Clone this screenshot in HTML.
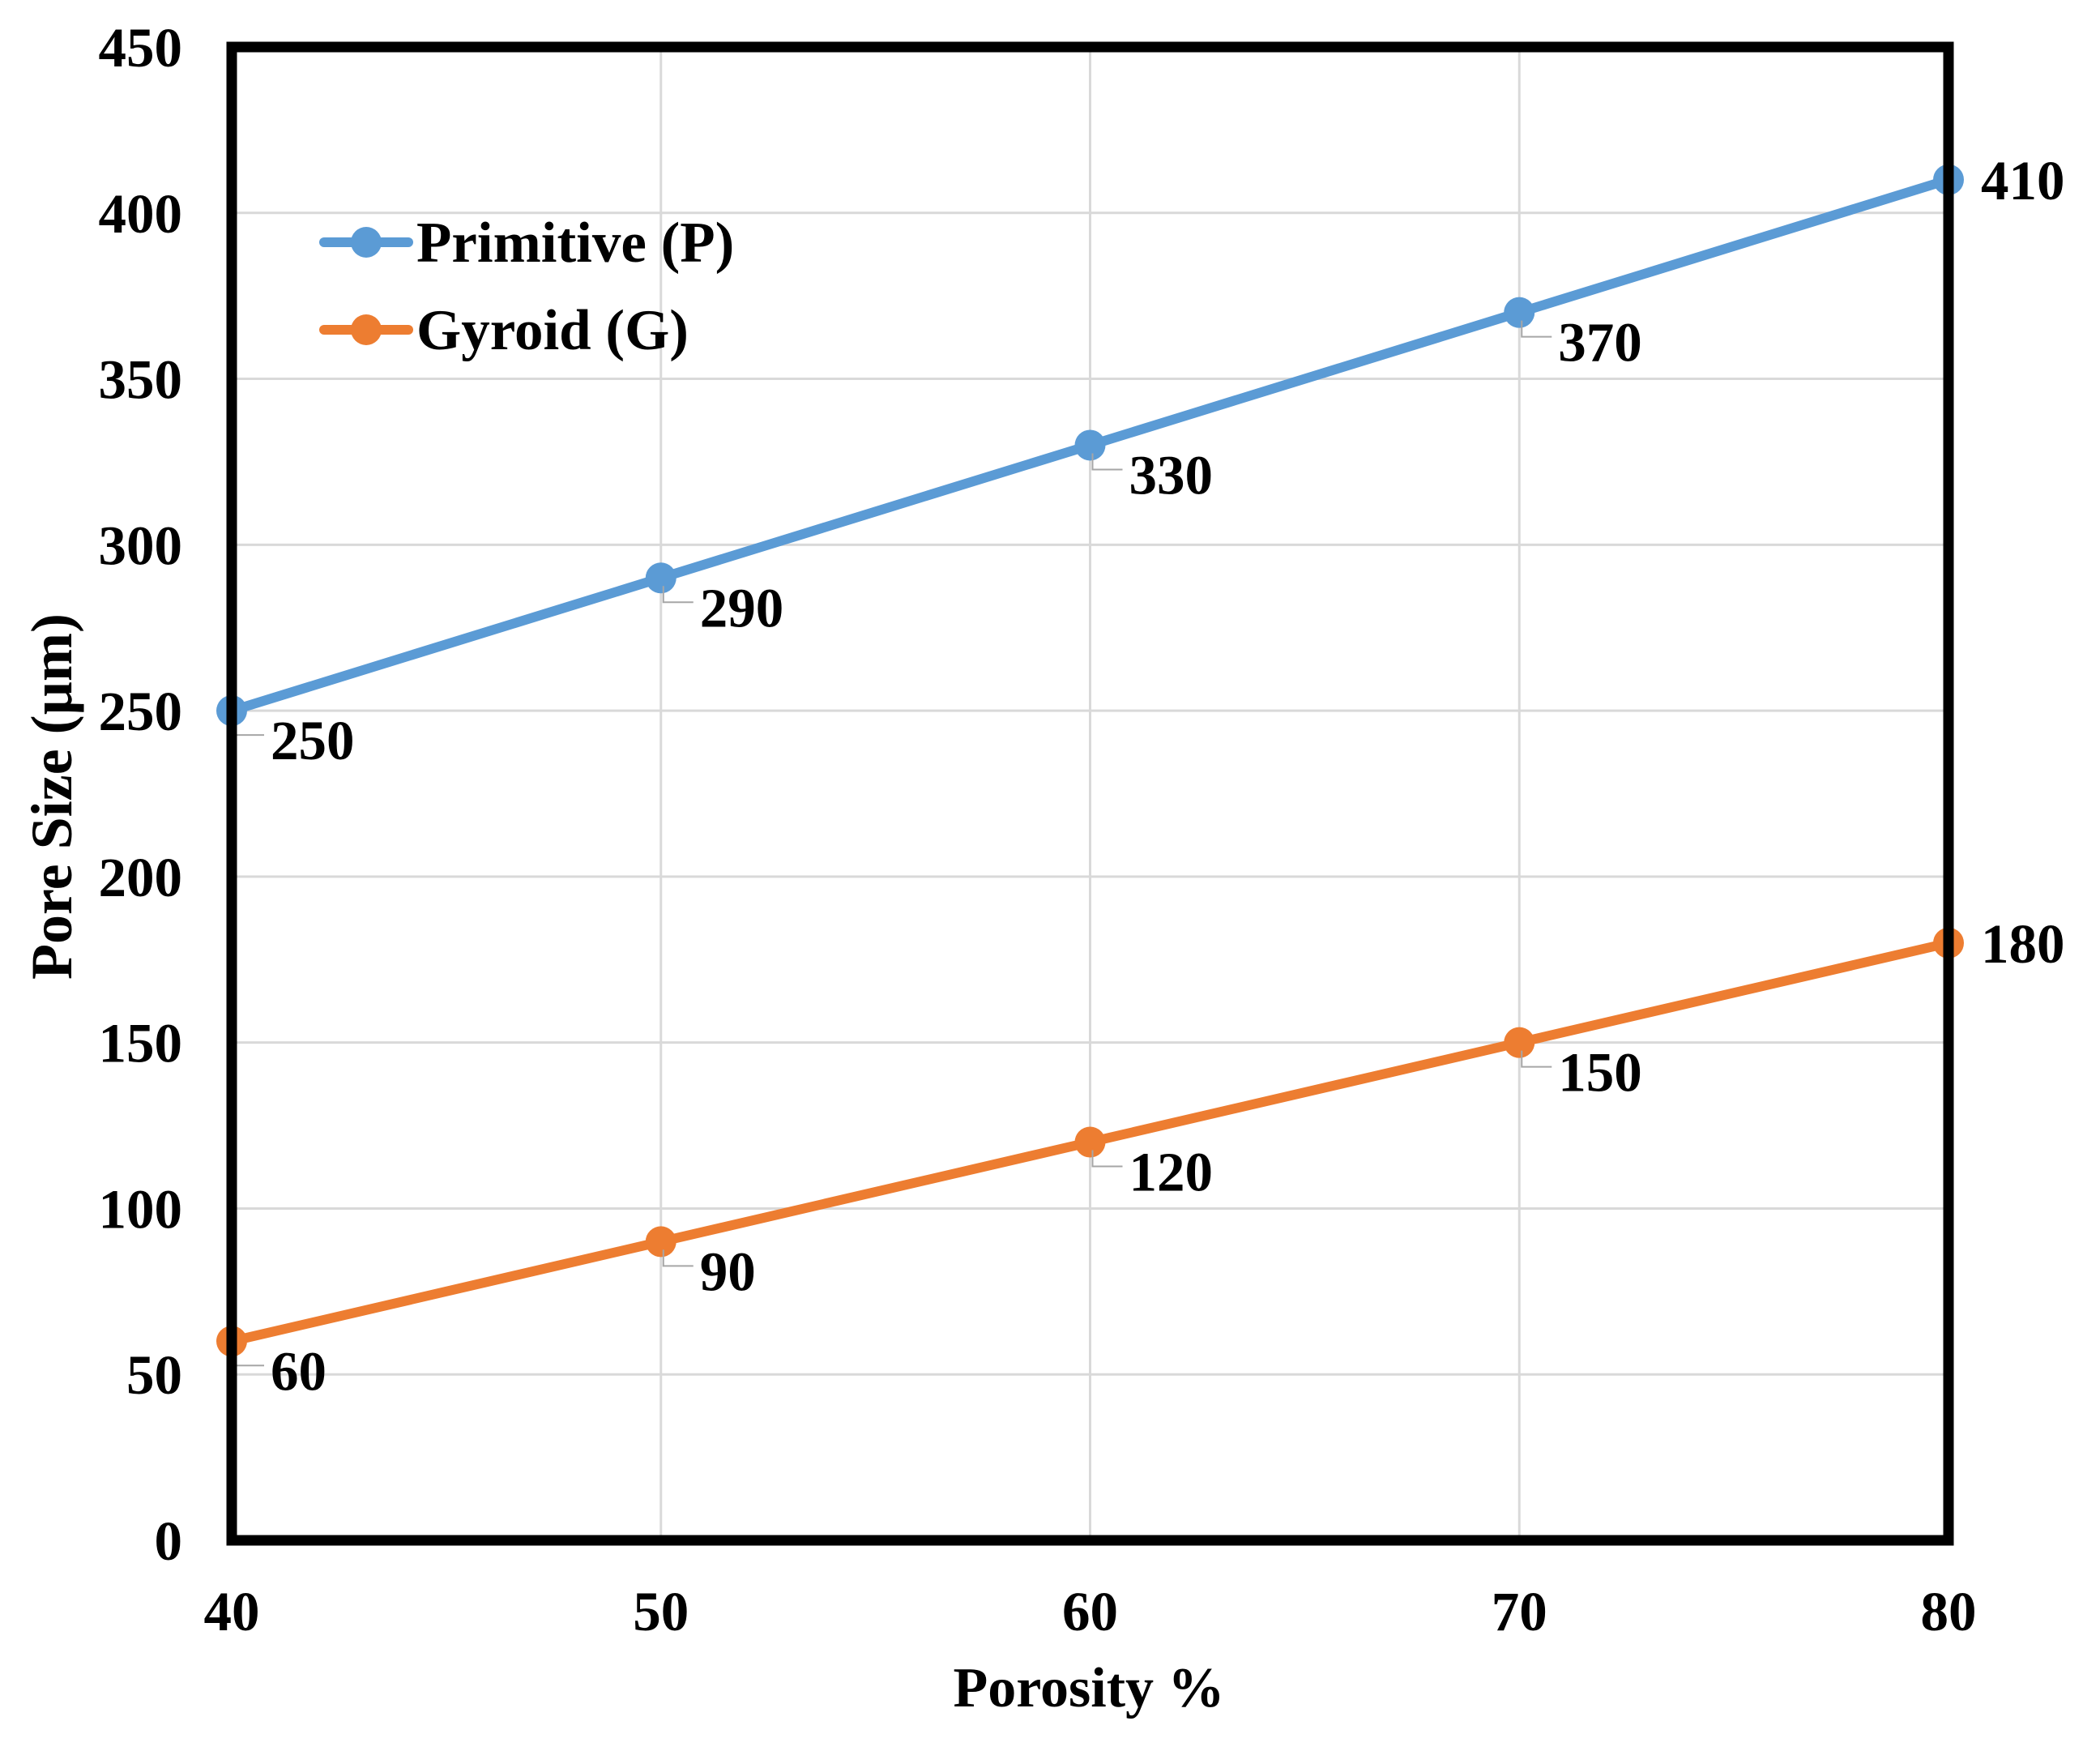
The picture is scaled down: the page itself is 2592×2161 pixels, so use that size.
<!DOCTYPE html>
<html><head><meta charset="utf-8"><style>
html,body{margin:0;padding:0;background:#fff;}
svg text{font-family:"Liberation Serif",serif;font-weight:bold;fill:#000;}
</style></head><body>
<svg id="chart" width="2592" height="2156" viewBox="0 0 2592 2156" xmlns="http://www.w3.org/2000/svg">
<g id="grid"></g>
<g id="yticks"></g>
<g id="xticks"></g>
<g id="series"></g>
<rect x="286" y="58" width="2119" height="1843" fill="none" stroke="#000" stroke-width="13"/>
<text x="1344" y="2106" font-size="70" text-anchor="middle">Porosity  %</text>
<text transform="translate(88,983) rotate(-90)" font-size="72" text-anchor="middle">Pore Size (µm)</text>
<g>
<g>
<line x1="400" y1="299" x2="504" y2="299" stroke="#5B9BD5" stroke-width="12" stroke-linecap="round"/>
<circle cx="452" cy="299" r="19" fill="#5B9BD5"/>
<text x="514" y="323" font-size="71">Primitive (P)</text></g>
<g>
<line x1="400" y1="407" x2="504" y2="407" stroke="#ED7D31" stroke-width="12" stroke-linecap="round"/>
<circle cx="452" cy="407" r="19" fill="#ED7D31"/>
<text x="514" y="431" font-size="71">Gyroid (G)</text></g>
</g>
</svg>
<script>
const categories=[40,50,60,70,80];
const primitive=[250,290,330,370,410];
const gyroid=[60,90,120,150,180];
const yTicks=[0,50,100,150,200,250,300,350,400,450];
const NS="http://www.w3.org/2000/svg";
const L=286,R=2405,T=58,B=1901;
function xs(v){return L+(v-40)/(80-40)*(R-L);}
function ys(v){return B-v/450*(B-T);}
function mk(tag,attrs,parent){const e=document.createElementNS(NS,tag);for(const k in attrs)e.setAttribute(k,attrs[k]);parent.appendChild(e);return e;}
const grid=document.getElementById('grid'),yt=document.getElementById('yticks'),xt=document.getElementById('xticks'),ser=document.getElementById('series');
yTicks.forEach(v=>{
 const g=mk('line',{x1:L,x2:R,y1:ys(v),y2:ys(v),stroke:'#d9d9d9','stroke-width':3},grid);
 
 
 const t=mk('text',{x:225,y:ys(v)+24,'font-size':69,'text-anchor':'end'},yt);t.textContent=v;
 
 
});
categories.forEach(c=>{
 const g=mk('line',{x1:xs(c),x2:xs(c),y1:T,y2:B,stroke:'#d9d9d9','stroke-width':3},grid);
 
 
 const t=mk('text',{x:xs(c),y:2012,'font-size':69,'text-anchor':'middle'},xt);t.textContent=c;
 
 
});
function draw(vals,color,name){
 const g=mk('g',{},ser);
 
 
 const pts=vals.map((v,i)=>xs(categories[i])+','+ys(v)).join(' ');
 const pl=mk('polyline',{points:pts,fill:'none',stroke:color,'stroke-width':12,'stroke-linejoin':'round'},g);
 
 
 vals.forEach((v,i)=>{
  const x=xs(categories[i]),y=ys(v);
  const c=mk('circle',{cx:x,cy:y,r:19,fill:color},g);
  
  
  let t;
  if(i===vals.length-1){
   t=mk('text',{x:x+40,y:y+24,'font-size':69},g);
  }else{
   mk('path',{d:`M${x+3} ${y+10} L${x+3} ${y+30} L${x+40} ${y+30}`,fill:'none',stroke:'#a6a6a6','stroke-width':2},g);
   t=mk('text',{x:x+48,y:y+60,'font-size':69},g);
  }
  t.textContent=v;
  
  
 });
}
draw(primitive,'#5B9BD5','primitive');
draw(gyroid,'#ED7D31','gyroid');
</script>
</body></html>
